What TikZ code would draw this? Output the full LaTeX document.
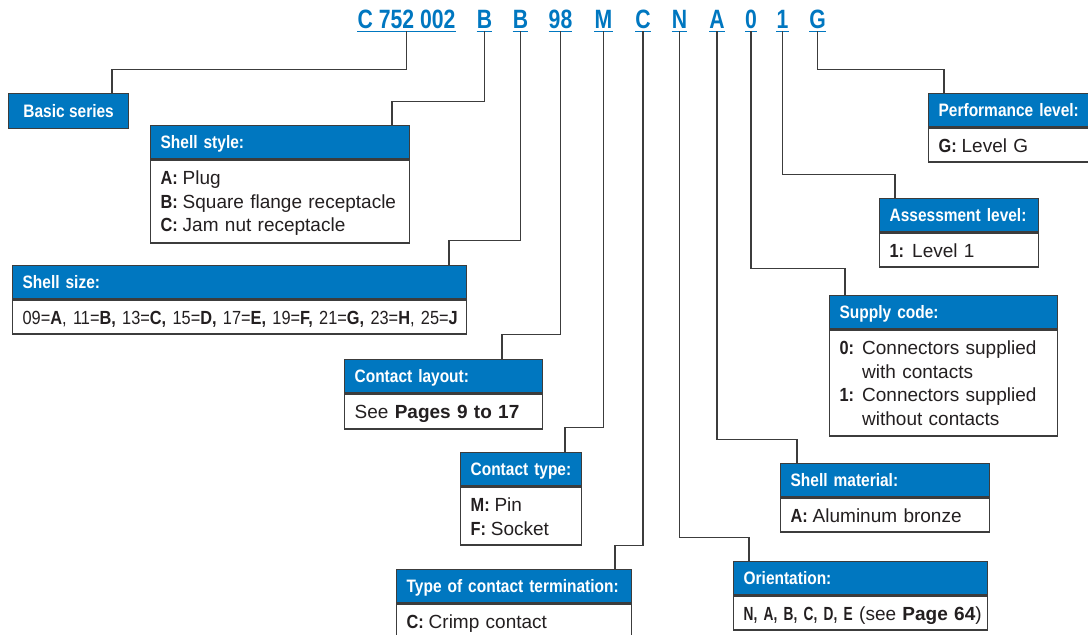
\documentclass[tikz,border=0pt]{standalone}
\usepackage{fontspec}
\setmainfont{Liberation Sans}
\newfontfamily\cndfont{Liberation Sans}[FakeStretch=0.86]
\newfontfamily\xcndfont{Liberation Sans}[FakeStretch=0.72]
\newfontfamily\ttlfont{Liberation Sans}[FakeStretch=0.8]
\usetikzlibrary{positioning}
\definecolor{hblue}{HTML}{0077C0}
\definecolor{bord}{HTML}{3C3C3C}
\definecolor{ink}{HTML}{231F20}
\newcommand{\kc}[1]{{\cndfont\bfseries #1}\kern-1.5pt\relax}

\begin{document}
\begin{tikzpicture}[x=1pt,y=-1pt,
  codeno/.style={font=\ttlfont\bfseries\fontsize{26.5}{30}\selectfont, text=hblue, inner sep=0pt, text depth=3pt, anchor=base,
    append after command={(\tikzlastnode.south west) edge[draw=hblue,line width=1.4pt] (\tikzlastnode.south east)}},
  hdr/.style={draw=bord, line width=1.3pt, fill=hblue, text=white, font=\cndfont\bfseries\fontsize{18}{22}\selectfont,
    anchor=north west, align=left, inner xsep=10pt, minimum height=33pt, text height=13pt, text depth=0pt},
  bodybox/.style={draw=bord, line width=1.3pt, fill=white, text=ink, font=\fontsize{19}{23.5}\selectfont,
    align=left, inner xsep=10pt, inner ysep=0pt, text height=25pt, text depth=#1},
  link/.style={draw=bord, line width=1.2pt}]

\useasboundingbox (0,0) rectangle (1088,635);

\node[codeno] (cser) at (406.5,28) {C 752 002};
\node[codeno] (cstyle) at (484.5,28) {B};
\node[codeno] (csize) at (520.5,28) {B};
\node[codeno] (clay) at (560.5,28) {98};
\node[codeno] (ctype) at (603.5,28) {M};
\node[codeno] (cterm) at (643,28) {C};
\node[codeno] (corient) at (679.5,28) {N};
\node[codeno] (cmtl) at (717,28) {A};
\node[codeno] (csup) at (751,28) {0};
\node[codeno] (cass) at (782.5,28) {1};
\node[codeno] (cperf) at (817.5,28) {G};

\node[hdr, minimum width=120pt, align=center, minimum height=35pt] (ser) at (8,93) {Basic series};

\node[hdr, text width=239pt] (styh) at (150,125) {Shell style:};
\node[bodybox=58pt, text width=239pt, below=0pt of styh] (styb)
  {\kc{A:} Plug\\\kc{B:} Square flange receptacle\\\kc{C:} Jam nut receptacle};

\node[hdr, text width=434pt] (sizh) at (12,265) {Shell size:};
\node[bodybox=9pt, text width=434pt, below=0pt of sizh] (sizb)
  {\mbox{\cndfont 09=\textbf{A}, 11=\textbf{B,} 13=\textbf{C,} 15=\textbf{D,} 17=\textbf{E,} 19=\textbf{F,} 21=\textbf{G,} 23=\textbf{H}, 25=\textbf{J}}};

\node[hdr, text width=178pt] (layh) at (344,359) {Contact layout:};
\node[bodybox=10pt, text width=178pt, below=0pt of layh] (layb) {See \textbf{Pages 9 to 17}};

\node[hdr, text width=101pt] (typh) at (460,452) {Contact type:};
\node[bodybox=33pt, text width=101pt, below=0pt of typh] (typb) {\kc{M:} Pin\\\kc{F:} Socket};

\node[hdr, text width=215pt] (termh) at (396,569) {Type of contact termination:};
\node[bodybox=10pt, text width=215pt, below=0pt of termh] (termb) {\kc{C:} Crimp contact};

\node[hdr, text width=234pt] (orih) at (733,561) {Orientation:};
\node[bodybox=9pt, text width=234pt, below=0pt of orih] (orib)
  {\mbox{{\xcndfont\bfseries N, A, B, C, D, E} (see \textbf{Page 64})}};

\node[hdr, text width=189pt] (mtlh) at (780,463) {Shell material:};
\node[bodybox=9pt, text width=189pt, below=0pt of mtlh] (mtlb) {\kc{A:} Aluminum bronze};

\node[hdr, text width=208pt] (suph) at (829,295) {Supply code:};
\node[bodybox=81pt, text width=208pt, below=0pt of suph] (supb)
  {\kc{0:} Connectors supplied\\\phantom{\kc{0:} }with contacts\\\kc{1:} Connectors supplied\\\phantom{\kc{1:} }without contacts};

\node[hdr, text width=139pt] (assh) at (879,198) {Assessment level:};
\node[bodybox=9pt, text width=139pt, below=0pt of assh] (assb) {\kc{1:} Level 1};

\node[hdr, text width=147pt] (perfh) at (928,93) {Performance level:};
\node[bodybox=9pt, text width=147pt, below=0pt of perfh] (perfb) {\kc{G:} Level G};

\draw[link] (cser.south) -- ++(0,38) -| ([xshift=104pt]ser.north west);
\draw[link] (cstyle.south) -- ++(0,70) -| ([xshift=242pt]styh.north west);
\draw[link] (csize.south) -- ++(0,209) -| ([xshift=437pt]sizh.north west);
\draw[link] (clay.south) -- ++(0,303) -| ([xshift=158pt]layh.north west);
\draw[link] (ctype.south) -- ++(0,396) -| ([xshift=105pt]typh.north west);
\draw[link] (cterm.south) -- ++(0,514) -| ([xshift=219pt]termh.north west);
\draw[link] (corient.south) -- ++(0,506) -| ([xshift=16pt]orih.north west);
\draw[link] (cmtl.south) -- ++(0,408) -| ([xshift=17pt]mtlh.north west);
\draw[link] (csup.south) -- ++(0,237) -| ([xshift=16pt]suph.north west);
\draw[link] (cass.south) -- ++(0,143) -| ([xshift=16pt]assh.north west);
\draw[link] (cperf.south) -- ++(0,38) -| ([xshift=16pt]perfh.north west);

\end{tikzpicture}
\end{document}
